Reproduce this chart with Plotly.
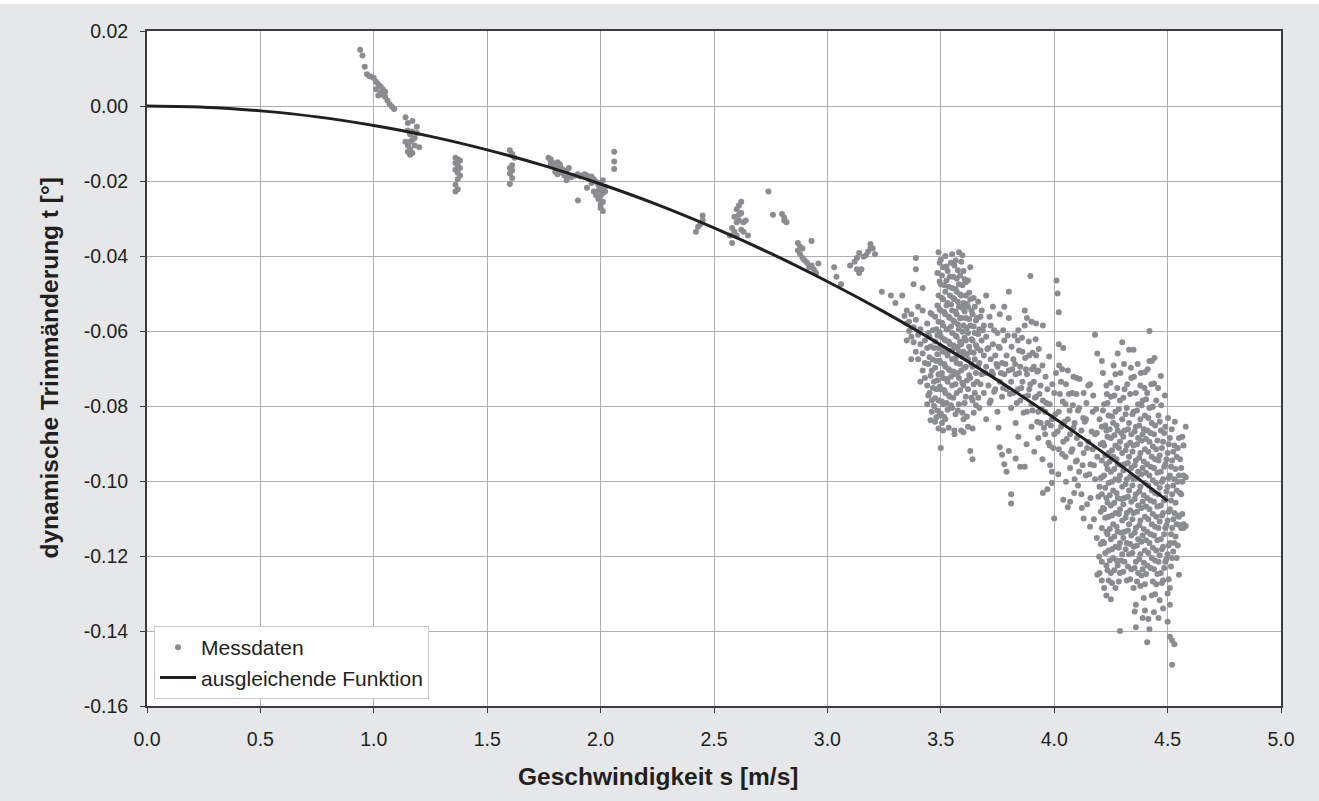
import plotly.graph_objects as go

# ---------------- data ----------------
# isolated measurement groups (speed [m/s], trim [deg])
grp_1_0 = [(0.94, 0.015), (0.95, 0.0135), (0.96, 0.0105), (0.97, 0.0085), (0.98, 0.008), (0.99, 0.0078),
           (1.00, 0.0075), (1.01, 0.0065), (1.02, 0.0058), (1.01, 0.0045), (1.03, 0.0052), (1.03, 0.0035),
           (1.04, 0.0045), (1.04, 0.003), (1.05, 0.0025), (1.05, 0.0038), (1.06, 0.0015), (1.07, 0.0005),
           (1.08, -0.0002), (1.09, -0.0008), (1.02, 0.0028)]
grp_1_16 = [(1.14, -0.003), (1.15, -0.0045), (1.17, -0.004), (1.19, -0.0055), (1.15, -0.0065), (1.16, -0.0075),
            (1.17, -0.0068), (1.18, -0.0085), (1.14, -0.0095), (1.15, -0.0105), (1.16, -0.0115), (1.17, -0.0125),
            (1.16, -0.013), (1.15, -0.0122), (1.18, -0.0105), (1.20, -0.011), (1.19, -0.0072), (1.17, -0.009),
            (1.16, -0.0095)]
grp_1_37 = [(1.36, -0.0138), (1.37, -0.0142), (1.38, -0.0145), (1.36, -0.0152), (1.37, -0.0158), (1.38, -0.0165),
            (1.36, -0.017), (1.37, -0.0178), (1.38, -0.0185), (1.37, -0.0195), (1.36, -0.021), (1.37, -0.0222),
            (1.36, -0.0228)]
grp_1_60 = [(1.60, -0.0118), (1.61, -0.0128), (1.62, -0.0138), (1.61, -0.0158), (1.60, -0.0165), (1.61, -0.0172),
            (1.60, -0.018), (1.61, -0.0192), (1.60, -0.0208)]
grp_1_82 = [(1.77, -0.0138), (1.78, -0.0142), (1.78, -0.0148), (1.79, -0.0152), (1.78, -0.0158), (1.79, -0.016),
            (1.80, -0.0165), (1.81, -0.015), (1.82, -0.0155), (1.82, -0.016), (1.83, -0.0168), (1.83, -0.0178),
            (1.84, -0.0172), (1.84, -0.0185), (1.85, -0.0175), (1.86, -0.0188), (1.87, -0.019), (1.80, -0.0175),
            (1.81, -0.0182), (1.86, -0.0165), (1.85, -0.0198)]
grp_2_00 = [(1.89, -0.0185), (1.90, -0.0182), (1.91, -0.0188), (1.92, -0.0185), (1.93, -0.0182), (1.94, -0.0185),
            (1.95, -0.0195), (1.96, -0.0188), (1.97, -0.0195), (1.98, -0.0202), (1.99, -0.021), (2.00, -0.0205),
            (2.01, -0.0198), (2.00, -0.022), (1.99, -0.0225), (2.01, -0.0232), (1.98, -0.0238), (2.00, -0.024),
            (2.02, -0.0228), (1.99, -0.0248), (2.01, -0.0255), (2.00, -0.0262), (2.00, -0.0272), (2.01, -0.028),
            (1.96, -0.0205), (1.94, -0.0218), (1.90, -0.0252), (1.97, -0.0228), (2.02, -0.0215), (2.06, -0.0122),
            (2.06, -0.0148), (2.06, -0.0168)]
grp_2_45 = [(2.42, -0.0335), (2.44, -0.0315), (2.45, -0.0305), (2.45, -0.0292), (2.43, -0.0322)]
grp_2_60 = [(2.57, -0.0345), (2.58, -0.0325), (2.59, -0.0295), (2.60, -0.0275), (2.61, -0.0265), (2.61, -0.029),
            (2.62, -0.0255), (2.62, -0.0285), (2.63, -0.031), (2.60, -0.031), (2.59, -0.0335), (2.58, -0.0365),
            (2.60, -0.0345), (2.63, -0.0335), (2.64, -0.0305), (2.65, -0.0345), (2.61, -0.0305), (2.62, -0.033)]
grp_2_80 = [(2.74, -0.0228), (2.76, -0.029), (2.80, -0.0288), (2.81, -0.0298), (2.82, -0.031), (2.81, -0.0305)]
grp_2_90 = [(2.87, -0.0385), (2.88, -0.0375), (2.88, -0.0395), (2.89, -0.0405), (2.89, -0.038), (2.90, -0.0412),
            (2.91, -0.0418), (2.92, -0.043), (2.93, -0.0425), (2.94, -0.0435), (2.95, -0.0445), (2.93, -0.036),
            (2.87, -0.0365), (2.96, -0.042)]
grp_3_15 = [(3.03, -0.043), (3.04, -0.0455), (3.06, -0.0475), (3.10, -0.0425), (3.12, -0.0415), (3.13, -0.0435),
            (3.14, -0.0445), (3.15, -0.0435), (3.16, -0.0402), (3.17, -0.0398), (3.18, -0.0388), (3.19, -0.0378),
            (3.19, -0.0368), (3.20, -0.038), (3.21, -0.0395), (3.14, -0.0392), (3.13, -0.0405), (3.24, -0.0495),
            (3.28, -0.0505), (3.30, -0.0525)]
grp_3_40 = [(3.33, -0.0505), (3.34, -0.056), (3.35, -0.058), (3.35, -0.0545), (3.36, -0.060), (3.36, -0.0575),
            (3.37, -0.0555), (3.37, -0.0615), (3.38, -0.059), (3.38, -0.063), (3.39, -0.0405), (3.39, -0.0435),
            (3.39, -0.057), (3.39, -0.0655), (3.40, -0.061), (3.40, -0.0675), (3.41, -0.0635), (3.41, -0.0595),
            (3.42, -0.066), (3.42, -0.0705), (3.42, -0.0545), (3.43, -0.0625), (3.43, -0.0685), (3.43, -0.0725),
            (3.44, -0.0645), (3.44, -0.0745), (3.44, -0.058), (3.45, -0.067), (3.45, -0.0765), (3.45, -0.0615),
            (3.46, -0.0705), (3.46, -0.0785), (3.46, -0.0555), (3.47, -0.0645), (3.47, -0.0735), (3.47, -0.080),
            (3.48, -0.068), (3.48, -0.0755), (3.48, -0.0595), (3.48, -0.083), (3.44, -0.0795), (3.46, -0.0815),
            (3.41, -0.0735), (3.40, -0.0535), (3.38, -0.0475), (3.42, -0.0485), (3.37, -0.0675), (3.35, -0.0625)]
grp_3_55_top = [(3.49, -0.039), (3.50, -0.041), (3.51, -0.043), (3.52, -0.040), (3.53, -0.044), (3.55, -0.0395),
                (3.56, -0.0425), (3.58, -0.039), (3.59, -0.0415), (3.60, -0.044), (3.54, -0.0455), (3.57, -0.046),
                (3.61, -0.047), (3.63, -0.043), (3.62, -0.0465)]
grp_3_72 = [(3.66, -0.0565), (3.66, -0.0645), (3.66, -0.0735), (3.67, -0.0595), (3.67, -0.0685), (3.67, -0.0805),
            (3.68, -0.0545), (3.68, -0.0625), (3.68, -0.0715), (3.69, -0.0665), (3.69, -0.0765), (3.69, -0.0585),
            (3.70, -0.0505), (3.70, -0.0615), (3.70, -0.0695), (3.70, -0.0835), (3.71, -0.0645), (3.71, -0.0745),
            (3.72, -0.0585), (3.72, -0.0675), (3.72, -0.0785), (3.73, -0.0535), (3.73, -0.0635), (3.73, -0.0715),
            (3.74, -0.0665), (3.74, -0.0755), (3.75, -0.0605), (3.75, -0.0695), (3.75, -0.0815), (3.76, -0.0555),
            (3.76, -0.0645), (3.76, -0.0735), (3.76, -0.091), (3.77, -0.0685), (3.77, -0.0775), (3.77, -0.093),
            (3.78, -0.0535), (3.78, -0.0625), (3.78, -0.0715), (3.78, -0.0955), (3.79, -0.0665), (3.79, -0.0755),
            (3.79, -0.0975), (3.80, -0.0495), (3.80, -0.0565), (3.80, -0.0705), (3.80, -0.092), (3.64, -0.0942),
            (3.60, -0.087), (3.56, -0.0875)]
grp_3_90 = [(3.81, -0.0735), (3.81, -0.0805), (3.81, -0.1035), (3.81, -0.106), (3.82, -0.0675), (3.82, -0.0765),
            (3.83, -0.0715), (3.83, -0.0845), (3.83, -0.094), (3.84, -0.0625), (3.84, -0.0755), (3.85, -0.0695),
            (3.85, -0.0785), (3.85, -0.0962), (3.86, -0.0735), (3.86, -0.0655), (3.87, -0.0545), (3.87, -0.0585),
            (3.87, -0.0775), (3.87, -0.0962), (3.88, -0.0565), (3.88, -0.0715), (3.88, -0.0815), (3.89, -0.0755),
            (3.89, -0.0665), (3.895, -0.0453), (3.90, -0.0575), (3.90, -0.0795), (3.90, -0.0855), (3.91, -0.0735),
            (3.91, -0.0695), (3.92, -0.058), (3.92, -0.0665), (3.92, -0.0775), (3.93, -0.0705), (3.93, -0.0815),
            (3.93, -0.0885), (3.94, -0.0745), (3.94, -0.0845), (3.95, -0.0585), (3.95, -0.0785), (3.95, -0.1032),
            (3.96, -0.0815), (3.96, -0.0875), (3.97, -0.0755), (3.97, -0.0845), (3.97, -0.1022), (3.98, -0.0795),
            (3.98, -0.0905), (3.99, -0.0835), (3.99, -0.0975), (3.99, -0.1005), (4.00, -0.0765), (4.00, -0.0875),
            (4.00, -0.110)]
grp_3_85_fill = [(3.685, -0.0598), (3.695, -0.0712), (3.705, -0.0648), (3.715, -0.0562), (3.715, -0.0792),
                 (3.725, -0.0708), (3.735, -0.0598), (3.735, -0.0762), (3.745, -0.0688), (3.755, -0.0642),
                 (3.755, -0.0858), (3.765, -0.0712), (3.775, -0.0598), (3.775, -0.0752), (3.785, -0.0688),
                 (3.795, -0.0612), (3.805, -0.0768), (3.815, -0.0702), (3.825, -0.0612), (3.835, -0.0792),
                 (3.845, -0.0712), (3.855, -0.0752), (3.865, -0.0818), (3.875, -0.0702), (3.885, -0.0772),
                 (3.895, -0.0742), (3.905, -0.0812), (3.915, -0.0778), (3.925, -0.0842), (3.935, -0.0768),
                 (3.945, -0.0808), (3.955, -0.0858), (3.965, -0.0792), (3.975, -0.0898), (3.985, -0.0852),
                 (3.995, -0.0912), (3.845, -0.0652), (3.905, -0.0658), (3.925, -0.0708)]
grp_3_95_band = [(3.812, -0.0642), (3.828, -0.0688), (3.842, -0.0598), (3.858, -0.0618), (3.872, -0.0672),
                 (3.888, -0.0628), (3.902, -0.0702), (3.918, -0.0622), (3.932, -0.0648), (3.948, -0.0692),
                 (3.962, -0.0722), (3.978, -0.0668), (3.992, -0.0742), (4.008, -0.0712), (4.022, -0.0692),
                 (4.038, -0.0788), (4.052, -0.0742), (4.068, -0.0812), (4.082, -0.0798), (4.098, -0.0768),
                 (4.112, -0.0728), (4.128, -0.0832), (4.142, -0.0792), (4.158, -0.0742), (4.172, -0.0772),
                 (4.188, -0.0872), (3.842, -0.0882), (3.878, -0.0902), (3.912, -0.0922), (3.948, -0.0942),
                 (3.982, -0.0958), (4.018, -0.0982), (4.052, -0.1002), (4.088, -0.1032), (4.122, -0.1072),
                 (4.158, -0.1122), (4.188, -0.1152), (4.198, -0.1202)]
grp_4_10 = [(4.01, -0.0465), (4.015, -0.050), (4.02, -0.055), (4.02, -0.0635), (4.02, -0.0815), (4.02, -0.0915),
            (4.03, -0.0855), (4.03, -0.0735), (4.04, -0.0645), (4.04, -0.0895), (4.04, -0.105), (4.05, -0.0795),
            (4.05, -0.0935), (4.06, -0.0835), (4.06, -0.0705), (4.06, -0.107), (4.07, -0.0875), (4.07, -0.0965),
            (4.07, -0.1055), (4.08, -0.0765), (4.08, -0.0915), (4.09, -0.0845), (4.09, -0.0995), (4.10, -0.0725),
            (4.10, -0.0885), (4.10, -0.0945), (4.11, -0.0805), (4.11, -0.0975), (4.12, -0.0865), (4.12, -0.1035),
            (4.13, -0.0925), (4.13, -0.110), (4.13, -0.0765), (4.14, -0.0835), (4.14, -0.0985), (4.15, -0.0895),
            (4.15, -0.0745), (4.16, -0.0955), (4.16, -0.1045), (4.17, -0.0815), (4.17, -0.0915), (4.18, -0.061),
            (4.18, -0.0875), (4.18, -0.0995), (4.19, -0.066), (4.19, -0.0935), (4.19, -0.125), (4.20, -0.0835),
            (4.20, -0.1015), (4.20, -0.1245)]
grp_4_10_fill = [(4.005, -0.0822), (4.015, -0.0868), (4.025, -0.0768), (4.035, -0.0928), (4.045, -0.0842),
                 (4.055, -0.0888), (4.065, -0.0768), (4.075, -0.0922), (4.085, -0.0858), (4.095, -0.0948),
                 (4.105, -0.0812), (4.115, -0.0902), (4.125, -0.0958), (4.135, -0.0842), (4.145, -0.0912),
                 (4.155, -0.0982), (4.165, -0.0868), (4.175, -0.0958), (4.185, -0.0808), (4.195, -0.1042),
                 (4.105, -0.1012), (4.145, -0.1062), (4.175, -0.1102), (4.035, -0.0702), (4.085, -0.0722)]
grp_4_35_upper = [(4.215, -0.0712), (4.232, -0.0768), (4.248, -0.0738), (4.262, -0.0692), (4.278, -0.0752),
                  (4.292, -0.0712), (4.308, -0.0688), (4.322, -0.0742), (4.338, -0.0698), (4.352, -0.0722),
                  (4.368, -0.0688), (4.382, -0.0712), (4.398, -0.0752), (4.412, -0.0702), (4.428, -0.0742),
                  (4.442, -0.0672), (4.458, -0.0752), (4.472, -0.0798), (4.488, -0.0772), (4.502, -0.0832),
                  (4.518, -0.0862), (4.532, -0.0842)]

# dense cloud around 3.45-3.68 m/s: one speed per column, trims listed per column
cloud_mid_speed = [3.49, 3.50, 3.51, 3.52, 3.53, 3.54, 3.55, 3.56, 3.57, 3.58, 3.59, 3.60, 3.61, 3.62, 3.63, 3.64, 3.65]
cloud_mid_trim = [
    [-0.0505, -0.0575, -0.0645, -0.0715, -0.0785, -0.086],
    [-0.0475, -0.0545, -0.0615, -0.0685, -0.0755, -0.082, -0.0912],
    [-0.0515, -0.0585, -0.0655, -0.0725, -0.0795, -0.0865],
    [-0.0495, -0.0555, -0.0625, -0.0695, -0.0765, -0.0835],
    [-0.0525, -0.0595, -0.0665, -0.0735, -0.081],
    [-0.0505, -0.0565, -0.0635, -0.0705, -0.0775],
    [-0.0485, -0.0545, -0.0605, -0.0675, -0.0745, -0.0805],
    [-0.0515, -0.0575, -0.0645, -0.0715, -0.0865],
    [-0.0495, -0.0555, -0.0615, -0.0685, -0.0765],
    [-0.0475, -0.0535, -0.0595, -0.0655, -0.0725, -0.0795],
    [-0.0505, -0.0565, -0.0635, -0.0705, -0.0865],
    [-0.0525, -0.0585, -0.0655, -0.0745, -0.0835],
    [-0.0505, -0.0565, -0.0625, -0.0695, -0.0775],
    [-0.0535, -0.0605, -0.0675, -0.0755, -0.0855],
    [-0.0515, -0.0585, -0.0655, -0.0725, -0.092],
    [-0.0555, -0.0625, -0.0695, -0.0785, -0.086],
    [-0.0535, -0.0605, -0.0675, -0.0765],
]
cloud_mid2_speed = [3.445, 3.455, 3.465, 3.475, 3.485, 3.495, 3.505, 3.515, 3.525, 3.535, 3.545, 3.555,
                    3.565, 3.575, 3.585, 3.595, 3.605, 3.615, 3.625, 3.635, 3.645, 3.655, 3.665, 3.675]
cloud_mid2_trim = [
    [-0.0605, -0.0688, -0.0772],
    [-0.0552, -0.0641, -0.0719, -0.0838],
    [-0.0598, -0.0676, -0.0752],
    [-0.0562, -0.0628, -0.0698, -0.0779, -0.0842],
    [-0.0445, -0.0532, -0.0611, -0.0662, -0.0731, -0.0812],
    [-0.0418, -0.0468, -0.0542, -0.0603, -0.0679, -0.0748, -0.0825],
    [-0.0452, -0.0512, -0.0578, -0.0649, -0.0712, -0.0788, -0.0845],
    [-0.0478, -0.0549, -0.0622, -0.0688, -0.0758, -0.0829],
    [-0.0428, -0.0465, -0.0532, -0.0596, -0.0658, -0.0728, -0.0792],
    [-0.0482, -0.0562, -0.0628, -0.0702, -0.0772, -0.0858],
    [-0.0418, -0.0529, -0.0588, -0.0652, -0.0722, -0.0798],
    [-0.0455, -0.0512, -0.0572, -0.0638, -0.0708, -0.0778],
    [-0.0412, -0.0488, -0.0548, -0.0612, -0.0672, -0.0742, -0.0822],
    [-0.0438, -0.0522, -0.0582, -0.0642, -0.0712, -0.0812],
    [-0.0452, -0.0502, -0.0566, -0.0628, -0.0688, -0.0758],
    [-0.0398, -0.0478, -0.0538, -0.0602, -0.0668, -0.0738, -0.0818],
    [-0.0462, -0.0548, -0.0618, -0.0698, -0.0792],
    [-0.0528, -0.0592, -0.0662, -0.0732, -0.0828],
    [-0.0498, -0.0568, -0.0642, -0.0718],
    [-0.0545, -0.0622, -0.0688, -0.0778],
    [-0.0512, -0.0588, -0.0658, -0.0742, -0.0818],
    [-0.0572, -0.0638, -0.0712, -0.0798],
    [-0.0522, -0.0608, -0.0692, -0.0778],
    [-0.0562, -0.0652, -0.0742],
]

# dense cloud around 4.2-4.6 m/s
cloud_high_speed = [4.21, 4.22, 4.23, 4.24, 4.25, 4.26, 4.27, 4.28, 4.29, 4.30, 4.31, 4.32, 4.33, 4.34, 4.35,
                    4.36, 4.37, 4.38, 4.39, 4.40, 4.41, 4.42, 4.43, 4.44, 4.45, 4.46, 4.47, 4.48, 4.49, 4.50,
                    4.51, 4.52, 4.53, 4.54, 4.55, 4.56, 4.57, 4.58]
cloud_high_trim = [
    [-0.068, -0.0855, -0.0945, -0.1035, -0.1125, -0.1215, -0.1265],
    [-0.0795, -0.0905, -0.0985, -0.1075, -0.1165, -0.1285],
    [-0.0745, -0.0865, -0.0955, -0.1045, -0.1135, -0.1225, -0.1305],
    [-0.0825, -0.0925, -0.1005, -0.1095, -0.1185, -0.1265],
    [-0.0775, -0.0885, -0.0975, -0.1065, -0.1155, -0.1245, -0.1315],
    [-0.0845, -0.0935, -0.1025, -0.1115, -0.1205],
    [-0.0715, -0.0815, -0.0905, -0.0995, -0.1085, -0.1175, -0.1285],
    [-0.066, -0.0865, -0.0955, -0.1045, -0.1135, -0.1225],
    [-0.0785, -0.0895, -0.0985, -0.1075, -0.1165, -0.1245, -0.140],
    [-0.063, -0.0835, -0.0925, -0.1015, -0.1105, -0.1195],
    [-0.0755, -0.0865, -0.0955, -0.1045, -0.1135, -0.1215],
    [-0.0805, -0.0905, -0.0995, -0.1085, -0.1165, -0.1265],
    [-0.065, -0.0845, -0.0935, -0.1025, -0.1115, -0.1195],
    [-0.0725, -0.0875, -0.0965, -0.1055, -0.1145, -0.1235],
    [-0.065, -0.0815, -0.0905, -0.0995, -0.1085, -0.1175, -0.1285],
    [-0.0765, -0.0855, -0.0945, -0.1035, -0.1125, -0.1215, -0.133, -0.139],
    [-0.0795, -0.0885, -0.0975, -0.1065, -0.1155, -0.1245],
    [-0.0745, -0.0835, -0.0925, -0.1015, -0.1105, -0.1195, -0.128],
    [-0.0785, -0.0875, -0.0965, -0.1055, -0.1145, -0.1235, -0.1365],
    [-0.071, -0.0825, -0.0915, -0.1005, -0.1095, -0.1185, -0.1275, -0.1345],
    [-0.0765, -0.0865, -0.0955, -0.1045, -0.1135, -0.1225, -0.143],
    [-0.060, -0.068, -0.0805, -0.0895, -0.0985, -0.1075, -0.1165, -0.1395],
    [-0.068, -0.0845, -0.0935, -0.1025, -0.1115, -0.1205, -0.1305],
    [-0.074, -0.0875, -0.0965, -0.1055, -0.1145, -0.1235, -0.135],
    [-0.0785, -0.0915, -0.1005, -0.1095, -0.1185, -0.1275],
    [-0.0825, -0.0945, -0.1035, -0.1125, -0.1215, -0.1365],
    [-0.072, -0.0865, -0.0975, -0.1065, -0.1155, -0.1245],
    [-0.0895, -0.0995, -0.1085, -0.1175, -0.1265, -0.134],
    [-0.0855, -0.0955, -0.1045, -0.1125, -0.1215],
    [-0.0925, -0.1015, -0.1105, -0.1195, -0.130, -0.1375],
    [-0.0885, -0.0985, -0.1075, -0.1165, -0.1285, -0.133, -0.1415],
    [-0.0945, -0.1035, -0.1125, -0.1205, -0.1425, -0.149],
    [-0.0905, -0.0995, -0.1085, -0.1165, -0.1435],
    [-0.0935, -0.1025, -0.1115, -0.1205],
    [-0.0885, -0.0985, -0.1095, -0.125],
    [-0.0965, -0.1035, -0.1125],
    [-0.0905, -0.0985, -0.1115, -0.1125],
    [-0.0855, -0.099, -0.112],
]
cloud_high2_speed = [4.205, 4.215, 4.225, 4.235, 4.245, 4.255, 4.265, 4.275, 4.285, 4.295, 4.305, 4.315, 4.325,
                     4.335, 4.345, 4.355, 4.365, 4.375, 4.385, 4.395, 4.405, 4.415, 4.425, 4.435, 4.445, 4.455,
                     4.465, 4.475, 4.485, 4.495, 4.505, 4.515, 4.525, 4.535, 4.545, 4.555, 4.565]
cloud_high2_trim = [
    [-0.0902, -0.0992, -0.1082, -0.1168],
    [-0.0812, -0.0898, -0.0988, -0.1072, -0.1162],
    [-0.0852, -0.0932, -0.1018, -0.1098, -0.1192],
    [-0.0792, -0.0882, -0.0968, -0.1058, -0.1142, -0.1238],
    [-0.0862, -0.0948, -0.1038, -0.1128, -0.1212],
    [-0.0828, -0.0918, -0.1002, -0.1092, -0.1182, -0.1272],
    [-0.0772, -0.0878, -0.0968, -0.1058, -0.1148, -0.1238],
    [-0.0852, -0.0942, -0.1032, -0.1122, -0.1212],
    [-0.0808, -0.0912, -0.0998, -0.1088, -0.1178, -0.1268],
    [-0.0872, -0.0958, -0.1048, -0.1138, -0.1212],
    [-0.0778, -0.0882, -0.0972, -0.1062, -0.1152, -0.1242],
    [-0.0822, -0.0918, -0.1008, -0.1098, -0.1182],
    [-0.0862, -0.0952, -0.1042, -0.1132, -0.1228],
    [-0.0768, -0.0898, -0.0988, -0.1078, -0.1168, -0.1262],
    [-0.0822, -0.0922, -0.1012, -0.1102, -0.1192],
    [-0.0868, -0.0958, -0.1048, -0.1138, -0.1232, -0.1348],
    [-0.0812, -0.0902, -0.0992, -0.1082, -0.1172, -0.1268],
    [-0.0852, -0.0938, -0.1028, -0.1118, -0.1208],
    [-0.0798, -0.0892, -0.0982, -0.1072, -0.1162, -0.1252],
    [-0.0862, -0.0948, -0.1038, -0.1128, -0.1218, -0.1312],
    [-0.0782, -0.0888, -0.0978, -0.1068, -0.1158, -0.1248],
    [-0.0832, -0.0922, -0.1012, -0.1102, -0.1192, -0.1368],
    [-0.0872, -0.0962, -0.1052, -0.1142, -0.1232],
    [-0.0802, -0.0908, -0.0998, -0.1088, -0.1178, -0.1268],
    [-0.0852, -0.0942, -0.1032, -0.1122, -0.1212, -0.1302],
    [-0.0892, -0.0978, -0.1068, -0.1158, -0.1248],
    [-0.0842, -0.0932, -0.1018, -0.1108, -0.1198, -0.1318],
    [-0.0912, -0.1002, -0.1092, -0.1182, -0.1272],
    [-0.0872, -0.0962, -0.1052, -0.1142, -0.1232],
    [-0.0942, -0.1028, -0.1118, -0.1208],
    [-0.0902, -0.0992, -0.1082, -0.1172, -0.1262],
    [-0.0962, -0.1052, -0.1142, -0.1228],
    [-0.0922, -0.1012, -0.1102, -0.1188],
    [-0.0968, -0.1058, -0.1148],
    [-0.0912, -0.1002, -0.1092, -0.1172],
    [-0.0942, -0.1032, -0.1118],
    [-0.0882, -0.1002, -0.1088],
]

# fitted curve ("ausgleichende Funktion") read at 0.25 m/s steps
fit_speed = [0.0, 0.25, 0.5, 0.75, 1.0, 1.25, 1.5, 1.75, 2.0, 2.25, 2.5, 2.75, 3.0, 3.25, 3.5, 3.75, 4.0, 4.25, 4.5]
fit_trim = [0.0, -0.0003, -0.0013, -0.0029, -0.0052, -0.0081, -0.0117, -0.0159, -0.0208, -0.0263, -0.0325,
            -0.0393, -0.0468, -0.0549, -0.0637, -0.0731, -0.0832, -0.0939, -0.1053]

x_ticks = [0.0, 0.5, 1.0, 1.5, 2.0, 2.5, 3.0, 3.5, 4.0, 4.5, 5.0]
y_ticks = [0.02, 0.00, -0.02, -0.04, -0.06, -0.08, -0.10, -0.12, -0.14, -0.16]

# ---------------- assemble ----------------
groups = [grp_1_0, grp_1_16, grp_1_37, grp_1_60, grp_1_82, grp_2_00, grp_2_45, grp_2_60, grp_2_80, grp_2_90,
          grp_3_15, grp_3_40, grp_3_55_top, grp_3_72, grp_3_90, grp_3_85_fill, grp_3_95_band, grp_4_10,
          grp_4_10_fill, grp_4_35_upper]
meas_speed, meas_trim = [], []
for g in groups:
    for s, t in g:
        meas_speed.append(s)
        meas_trim.append(t)
for speeds, trims in [(cloud_mid_speed, cloud_mid_trim), (cloud_mid2_speed, cloud_mid2_trim),
                      (cloud_high_speed, cloud_high_trim), (cloud_high2_speed, cloud_high2_trim)]:
    for s, col in zip(speeds, trims):
        for t in col:
            meas_speed.append(s)
            meas_trim.append(t)

W, H = 1319, 801
ML, MR, MT, MB = 147, 38, 31, 95
PW, PH = W - ML - MR, H - MT - MB
BG = "#e6e7e8"
TXT = "#231f20"
FONT = "Liberation Sans, Arial, sans-serif"

fig = go.Figure()
fig.add_trace(go.Scatter(
    x=meas_speed, y=meas_trim, mode="markers", name="Messdaten",
    marker=dict(color="#8b8c90", size=6, line=dict(width=0)),
))
fig.add_trace(go.Scatter(
    x=fit_speed, y=fit_trim, mode="lines", name="ausgleichende Funktion",
    line=dict(color=TXT, width=3, shape="spline", smoothing=0.6),
))

axis_common = dict(
    showgrid=True, gridcolor="#aeafb2", gridwidth=1,
    showline=True, linecolor="#3c3c3e", linewidth=2, mirror=True,
    ticks="outside", ticklen=5, tickcolor="#3c3c3e", tickwidth=1,
    tickfont=dict(family=FONT, size=19.5, color=TXT),
    zeroline=False,
)
fig.update_xaxes(range=[0, 5], tickvals=x_ticks, ticktext=[f"{v:.1f}" for v in x_ticks],
                 ticklabelstandoff=10, **axis_common)
fig.update_yaxes(range=[-0.16, 0.02], tickvals=y_ticks, ticktext=[f"{v:.2f}" for v in y_ticks],
                 ticklabelstandoff=8, **axis_common)

fig.update_layout(
    width=W, height=H,
    margin=dict(l=ML, r=MR, t=MT, b=MB, pad=0),
    paper_bgcolor=BG, plot_bgcolor="white",
    font=dict(family=FONT, color=TXT),
    showlegend=True,
    legend=dict(
        x=(154 - ML) / PW, y=(H - MB - 626) / PH, xanchor="left", yanchor="top",
        bgcolor="white", bordercolor="#c9c9cb", borderwidth=1,
        font=dict(family=FONT, size=21, color=TXT),
        itemwidth=36, tracegroupgap=0,
    ),
    annotations=[
        dict(text="<b>Geschwindigkeit s [m/s]</b>", xref="paper", yref="paper",
             x=(658 - ML) / PW, y=-(776 - (H - MB)) / PH, xanchor="center", yanchor="middle",
             showarrow=False, font=dict(family=FONT, size=24.5, color=TXT)),
        dict(text="<b>dynamische Trimmänderung t [°]</b>", xref="paper", yref="paper",
             x=-(ML - 49) / PW, y=0.5, xanchor="center", yanchor="middle", textangle=-90,
             showarrow=False, font=dict(family=FONT, size=24.5, color=TXT)),
    ],
    shapes=[
        dict(type="rect", xref="paper", yref="paper", layer="above",
             x0=-ML / PW, x1=(W - ML) / PW, y0=1 + (MT - 4) / PH, y1=1 + MT / PH + 0.001,
             fillcolor="white", line=dict(width=0)),
    ],
)

fig.write_html("out.html", config={"displayModeBar": False},
               post_script="document.body.style.margin='0';document.body.style.overflow='hidden';")
